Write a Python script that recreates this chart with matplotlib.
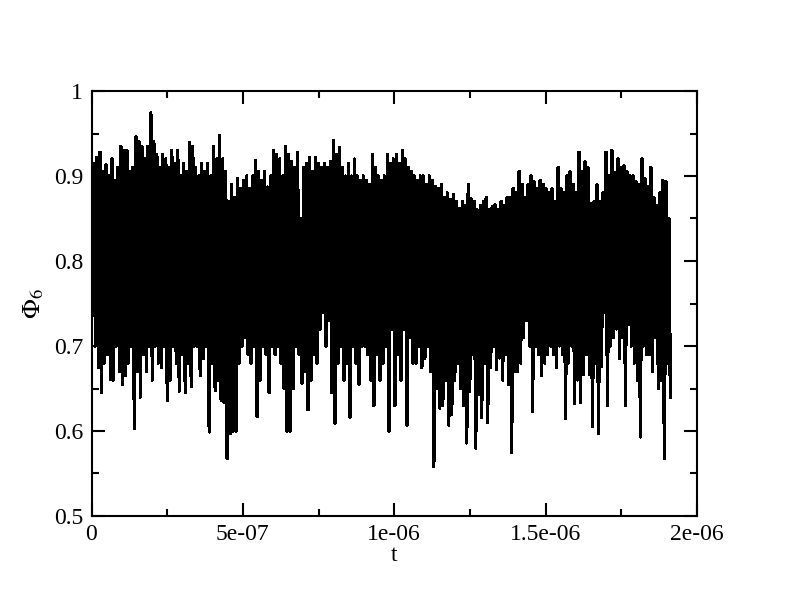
import numpy as np
import matplotlib
matplotlib.use("Agg")
import matplotlib.pyplot as plt
from matplotlib.ticker import FixedLocator, MultipleLocator

# Time range of the series
t_start = 0.008e-6
t_end = 1.912e-6

# Upper and lower excursions of Phi_6, read left to right from the picture
phi6_high = [
    0.915, 0.922, 0.928, 0.905, 0.913, 0.90, 0.92, 0.895, 0.91, 0.935,
    0.93, 0.93, 0.905, 0.91, 0.946, 0.94, 0.935, 0.92, 0.935, 0.974,
    0.94, 0.925, 0.91, 0.925, 0.92, 0.91, 0.93, 0.915, 0.93, 0.90,
    0.915, 0.905, 0.939, 0.935, 0.91, 0.90, 0.915, 0.905, 0.915, 0.90,
    0.935, 0.92, 0.948, 0.92, 0.905, 0.87, 0.89, 0.875, 0.897, 0.885,
    0.895, 0.90, 0.885, 0.90, 0.918, 0.905, 0.895, 0.905, 0.887, 0.90,
    0.93, 0.925, 0.92, 0.90, 0.935, 0.925, 0.917, 0.91, 0.928, 0.85,
    0.91, 0.915, 0.922, 0.905, 0.922, 0.915, 0.91, 0.915, 0.91, 0.917,
    0.942, 0.925, 0.933, 0.91, 0.90, 0.915, 0.90, 0.92, 0.90, 0.895,
    0.90, 0.895, 0.89, 0.925, 0.91, 0.90, 0.895, 0.90, 0.925, 0.915,
    0.92, 0.925, 0.915, 0.93, 0.92, 0.91, 0.905, 0.90, 0.895, 0.90,
    0.90, 0.89, 0.90, 0.895, 0.888, 0.885, 0.89, 0.875, 0.88, 0.872,
    0.878, 0.87, 0.862, 0.87, 0.865, 0.89, 0.873, 0.87, 0.86, 0.865,
    0.87, 0.875, 0.86, 0.864, 0.866, 0.86, 0.87, 0.865, 0.875, 0.875,
    0.885, 0.88, 0.905, 0.89, 0.875, 0.89, 0.90, 0.893, 0.885, 0.895,
    0.89, 0.885, 0.88, 0.885, 0.87, 0.91, 0.885, 0.88, 0.90, 0.905,
    0.89, 0.88, 0.928, 0.905, 0.917, 0.91, 0.868, 0.87, 0.89, 0.87,
    0.88, 0.928, 0.90, 0.93, 0.904, 0.92, 0.91, 0.912, 0.905, 0.90,
    0.90, 0.893, 0.89, 0.92, 0.897, 0.887, 0.91, 0.875, 0.865, 0.88,
    0.895, 0.893, 0.85,
]
phi6_low = [
    0.70, 0.675, 0.645, 0.68, 0.69, 0.661, 0.66, 0.70, 0.67, 0.655,
    0.665, 0.68, 0.70, 0.603, 0.67, 0.64, 0.69, 0.67, 0.70, 0.66,
    0.70, 0.68, 0.675, 0.70, 0.636, 0.66, 0.70, 0.68, 0.647, 0.69,
    0.645, 0.68, 0.652, 0.70, 0.70, 0.665, 0.685, 0.70, 0.599, 0.68,
    0.648, 0.66, 0.636, 0.634, 0.568, 0.597, 0.60, 0.60, 0.68, 0.70,
    0.71, 0.69, 0.68, 0.70, 0.617, 0.66, 0.70, 0.69, 0.645, 0.70,
    0.69, 0.70, 0.68, 0.65, 0.60, 0.60, 0.65, 0.70, 0.69, 0.656,
    0.67, 0.625, 0.66, 0.69, 0.68, 0.72, 0.74, 0.70, 0.73, 0.645,
    0.609, 0.68, 0.70, 0.66, 0.68, 0.616, 0.70, 0.68, 0.655, 0.70,
    0.70, 0.69, 0.66, 0.63, 0.69, 0.66, 0.68, 0.70, 0.60, 0.72,
    0.63, 0.69, 0.66, 0.72, 0.607, 0.71, 0.68, 0.68, 0.70, 0.675,
    0.685, 0.70, 0.67, 0.558, 0.65, 0.627, 0.63, 0.66, 0.607, 0.62,
    0.66, 0.68, 0.65, 0.63, 0.586, 0.647, 0.69, 0.58, 0.643, 0.616,
    0.68, 0.61, 0.675, 0.70, 0.672, 0.686, 0.66, 0.69, 0.655, 0.575,
    0.67, 0.67, 0.68, 0.71, 0.73, 0.70, 0.623, 0.70, 0.69, 0.665,
    0.68, 0.69, 0.70, 0.69, 0.675, 0.70, 0.69, 0.615, 0.68, 0.70,
    0.632, 0.66, 0.634, 0.667, 0.69, 0.667, 0.605, 0.68, 0.597, 0.676,
    0.74, 0.63, 0.70, 0.71, 0.72, 0.685, 0.71, 0.63, 0.725, 0.70,
    0.68, 0.66, 0.593, 0.70, 0.69, 0.69, 0.67, 0.71, 0.65, 0.66,
    0.568, 0.68, 0.64,
]

x_ticks = [0, 5e-7, 1e-6, 1.5e-6, 2e-6]
x_tick_labels = ["0", "5e-07", "1e-06", "1.5e-06", "2e-06"]
y_ticks = [0.5, 0.6, 0.7, 0.8, 0.9, 1.0]
y_tick_labels = ["0.5", "0.6", "0.7", "0.8", "0.9", "1"]

# interleave high / low samples into one time series
phi6 = np.empty(2 * len(phi6_high))
phi6[0::2] = phi6_high
phi6[1::2] = phi6_low
t = np.linspace(t_start, t_end, len(phi6))

plt.rcParams["font.family"] = ["Liberation Serif", "DejaVu Serif"]
plt.rcParams["mathtext.fontset"] = "stix"

fig = plt.figure(figsize=(7.92, 6.07), dpi=100)
ax = fig.add_axes([91.5 / 792, 1 - 516 / 607, (697 - 91.5) / 792, (516 - 91) / 607])

ax.plot(t, phi6, color="black", linewidth=1.7, solid_joinstyle="round",
        antialiased=False)

ax.set_xlim(0, 2e-6)
ax.set_ylim(0.5, 1.0)
ax.xaxis.set_major_locator(FixedLocator(x_ticks))
ax.set_xticklabels(x_tick_labels)
ax.xaxis.set_minor_locator(MultipleLocator(2.5e-7))
ax.yaxis.set_major_locator(FixedLocator(y_ticks))
ax.set_yticklabels(y_tick_labels)
ax.yaxis.set_minor_locator(MultipleLocator(0.05))

ax.tick_params(which="both", direction="in", top=True, right=True,
               width=1.5, labelsize=17, colors="black")
ax.tick_params(which="major", length=9.5)
ax.tick_params(which="minor", length=5)
ax.tick_params(axis="x", which="major", pad=6)
ax.tick_params(axis="y", which="major", pad=6)
for s in ax.spines.values():
    s.set_linewidth(1.5)

ax.set_xlabel("t", fontsize=17, labelpad=0)
ax.set_ylabel(r"$\Phi_6$", fontsize=19, labelpad=6)

fig.savefig("out.png", dpi=100)
